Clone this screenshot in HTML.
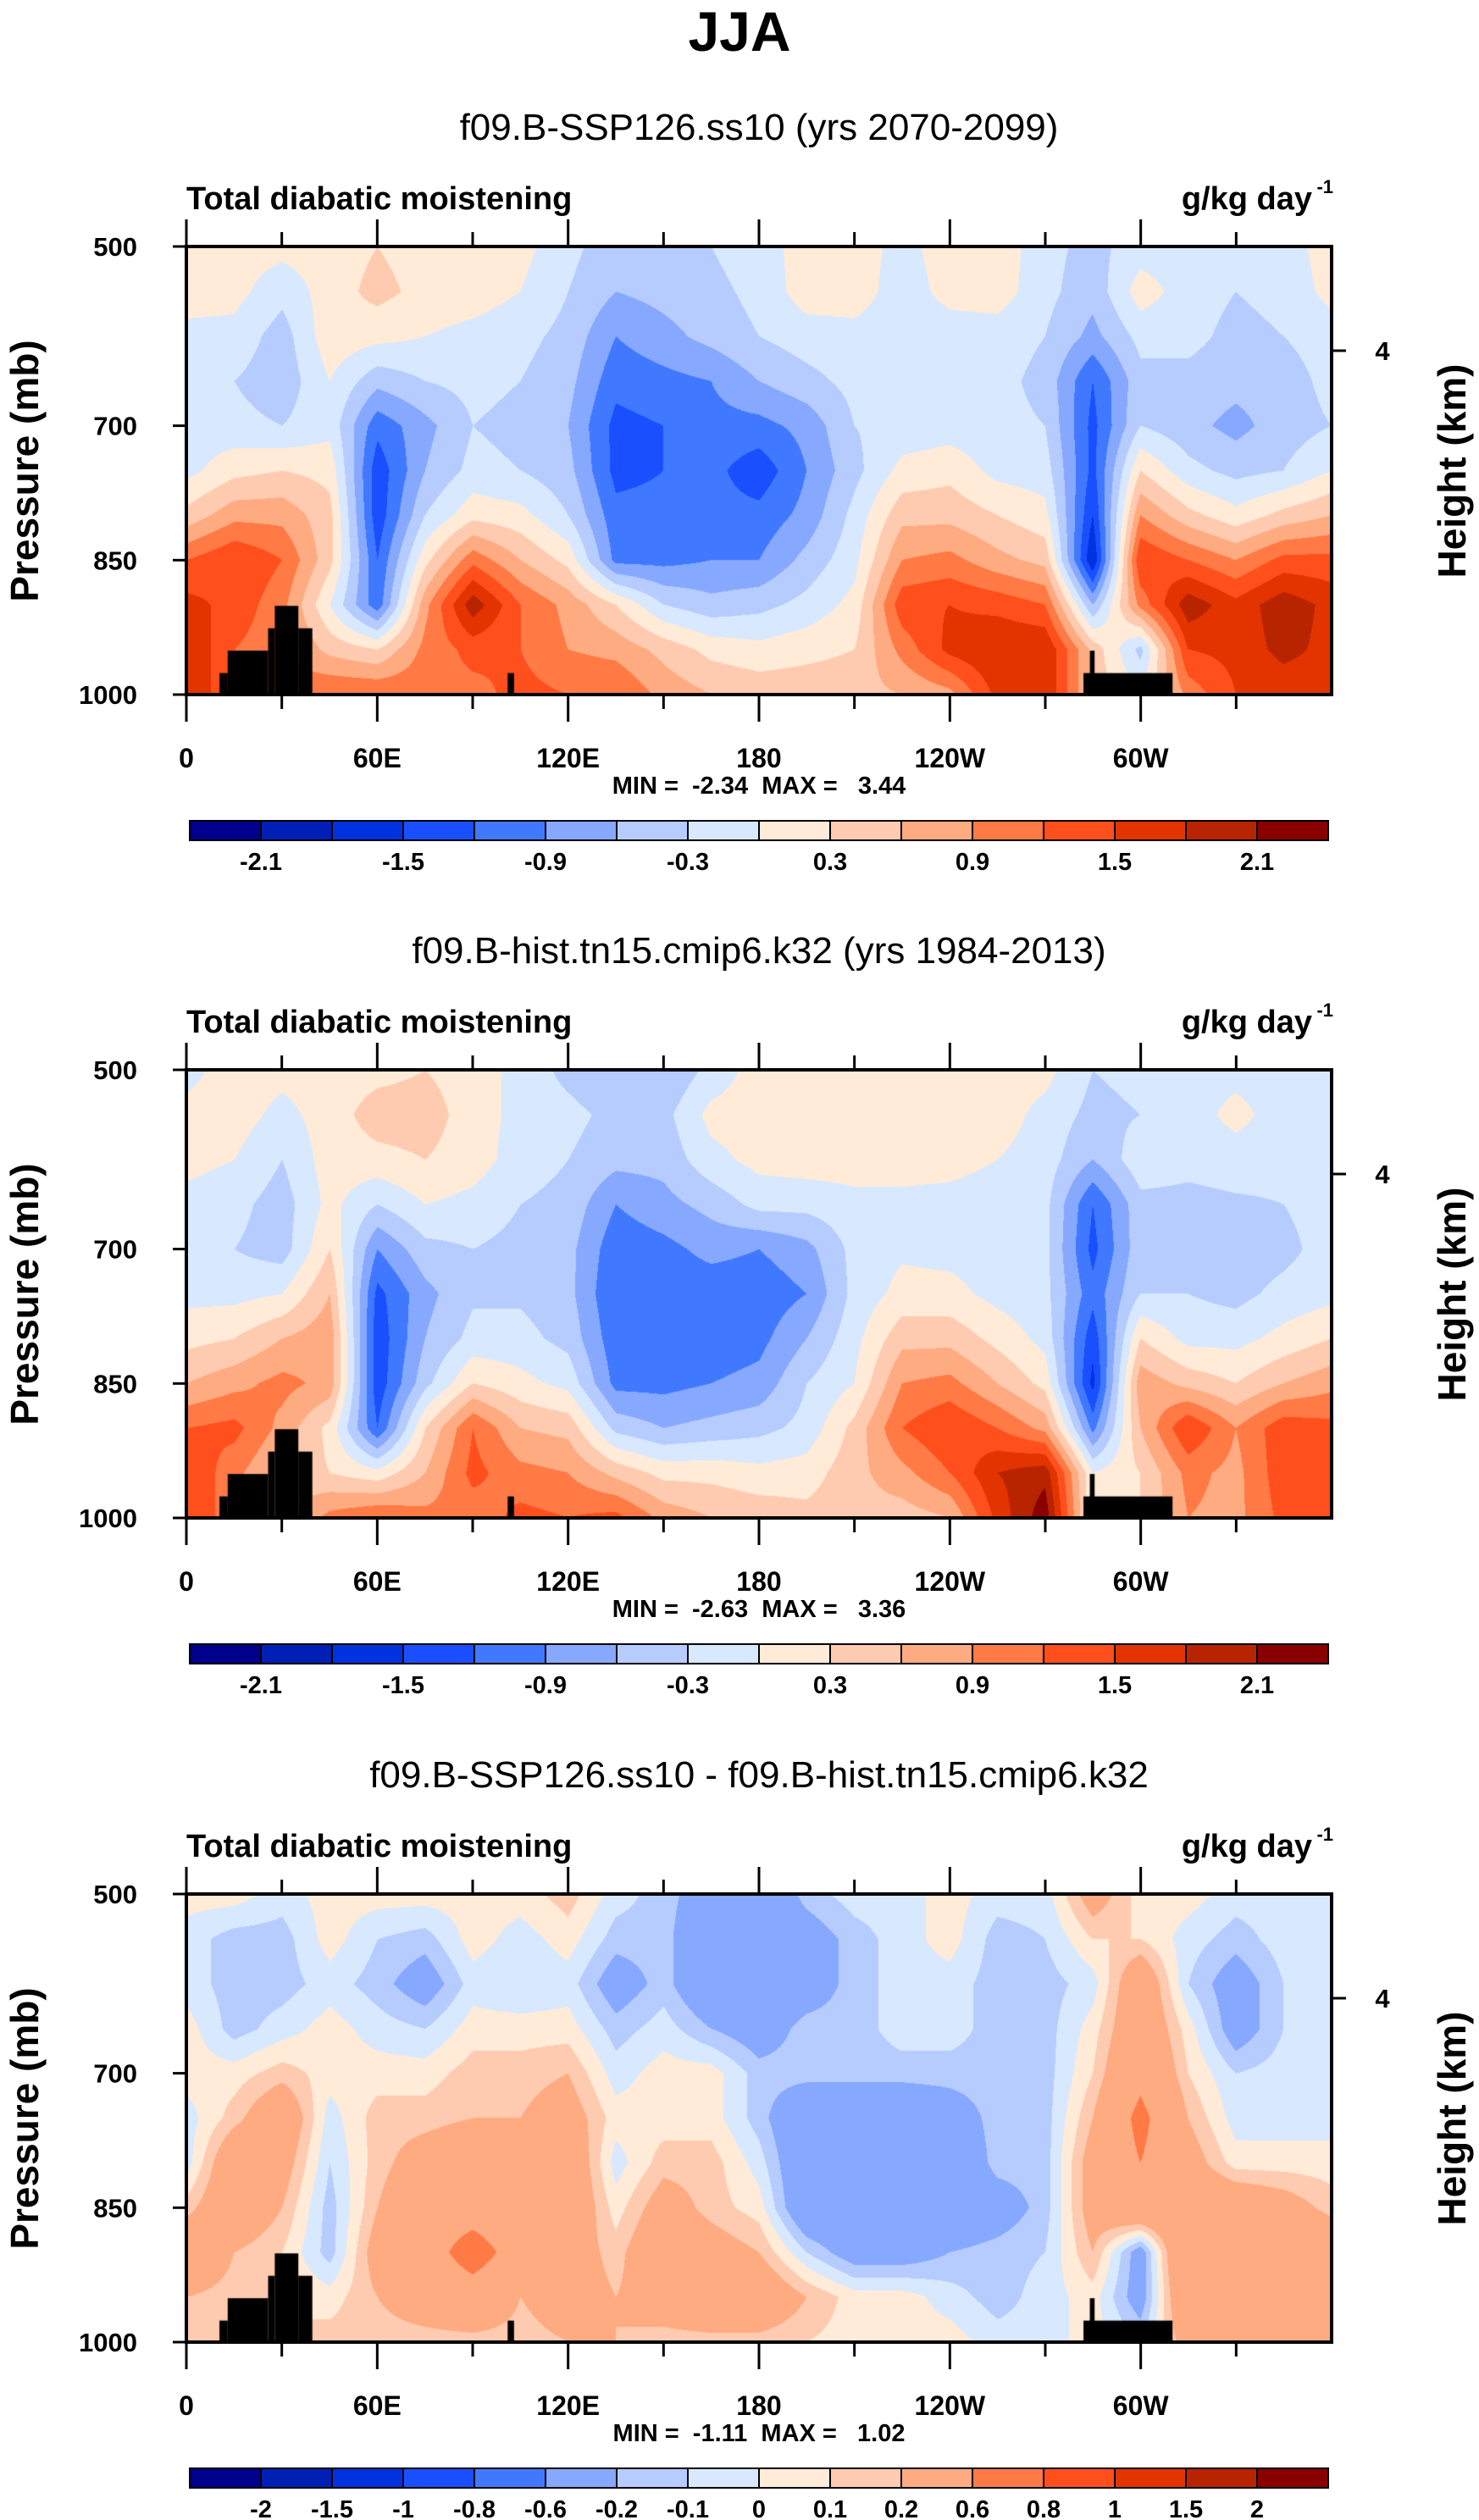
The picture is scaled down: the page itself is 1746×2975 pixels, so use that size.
<!DOCTYPE html>
<html><head><meta charset="utf-8">
<style>
html,body{margin:0;padding:0;background:#fff;}
#root{position:relative;width:1746px;height:2975px;overflow:hidden;background:#fff;}
canvas{position:absolute;}
svg{position:absolute;left:0;top:0;}
text{font-family:"Liberation Sans",sans-serif;fill:#000;white-space:pre;}
</style></head>
<body>
<div id="root">
<canvas id="c0" width="1352" height="529" style="left:220px;top:291px"></canvas>
<canvas id="c1" width="1352" height="529" style="left:220px;top:1263px"></canvas>
<canvas id="c2" width="1352" height="529" style="left:220px;top:2236px"></canvas>
<svg id="ov" width="1746" height="2975"></svg>
</div>
<script>
// ---- data ----
const lonTicks=[0,60,120,180,240,300];
const lonTickLabels=["0","60E","120E","180","120W","60W"];
const presTicks=[500,700,850,1000];
const presTickLabels=["500","700","850","1000"];
const gridLons=[0,15,30,45,60,75,90,105,120,135,150,165,180,195,210,225,240,255,270,285,300,315,330,345,360];
const gridPres=[500,550,600,650,700,750,800,850,900,950,1000];
// each row = one longitude column, values at gridPres
const field1=[
[0.15,0.15,-0.1,-0.2,-0.15,-0.1,0.4,1.2,1.6,1.8,1.8],
[0.15,0.1,-0.1,-0.3,-0.2,0.2,0.8,1.5,1.4,1.2,1.2],
[0.1,-0.2,-0.45,-0.5,-0.3,0.3,0.8,1.2,1.0,1.0,1.0],
[0.15,0.15,0.2,0.0,-0.1,0.2,0.4,0.4,0.0,0.5,1.2],
[0.3,0.4,0.1,-0.5,-1.1,-1.4,-1.4,-1.2,-1.1,0.3,1.2],
[0.15,0.2,0.0,-0.3,-0.7,-0.6,-0.3,0.2,0.8,1.0,1.1],
[0.15,0.15,-0.1,-0.2,-0.3,-0.2,0.2,1.1,2.0,1.3,1.1],
[0.1,0.0,-0.2,-0.3,-0.4,-0.3,0.1,0.6,1.2,1.2,1.3],
[-0.2,-0.3,-0.4,-0.5,-0.6,-0.5,-0.3,0.2,0.8,0.9,1.2],
[-0.5,-0.6,-0.9,-1.1,-1.3,-1.3,-1.1,-1.0,0.3,0.8,1.2],
[-0.4,-0.5,-0.7,-1.0,-1.2,-1.2,-1.1,-1.0,-0.3,0.5,0.8],
[-0.3,-0.4,-0.5,-0.9,-1.0,-1.1,-1.1,-0.9,-0.5,0.2,0.6],
[-0.1,-0.2,-0.3,-0.6,-1.0,-1.4,-1.1,-0.9,-0.4,0.1,0.5],
[0.1,0.15,-0.15,-0.4,-0.8,-0.9,-0.8,-0.5,-0.2,0.2,0.5],
[0.15,0.15,-0.1,-0.2,-0.3,-0.4,-0.2,-0.1,0.1,0.3,0.5],
[-0.1,-0.15,-0.2,-0.2,-0.2,0.1,0.5,0.9,1.4,1.0,0.6],
[0.15,0.1,-0.15,-0.2,-0.15,0.2,0.5,1.0,1.5,1.6,0.8],
[0.2,0.15,-0.15,-0.2,-0.2,-0.1,0.3,0.7,1.4,1.8,1.6],
[-0.2,-0.2,-0.3,-0.4,-0.3,-0.15,0.1,0.5,1.2,1.8,1.8],
[-0.4,-0.5,-0.7,-1.2,-1.3,-1.3,-1.5,-1.8,-0.6,0.5,0.5],
[-0.15,0.15,-0.2,-0.4,-0.3,0.3,0.9,1.5,1.0,-0.4,0.0],
[-0.15,-0.15,-0.2,-0.4,-0.5,-0.2,0.4,1.2,2.0,1.5,1.0],
[-0.15,-0.3,-0.4,-0.5,-0.7,-0.4,0.1,0.9,1.6,1.6,1.5],
[-0.15,-0.2,-0.3,-0.45,-0.45,-0.3,0.4,1.3,2.0,1.9,1.6],
[0.15,0.1,-0.15,-0.2,-0.3,0.0,0.6,1.3,1.7,1.7,1.6]];
const field2=[
[-0.1,0.1,0.1,-0.1,-0.15,-0.1,0.2,0.6,1.2,1.5,1.5],
[0.15,0.15,0.0,-0.2,-0.3,-0.1,0.3,0.8,1.3,1.0,1.0],
[0.1,-0.1,-0.3,-0.45,-0.45,0.0,0.6,1.0,0.8,0.5,0.5],
[0.15,0.15,0.15,0.1,0.3,0.6,0.8,0.8,0.2,0.3,1.0],
[0.2,0.45,0.2,-0.3,-0.9,-1.3,-1.4,-1.4,-1.2,0.1,1.2],
[0.3,0.45,0.3,0.0,-0.4,-0.7,-0.6,-0.4,0.3,0.6,1.0],
[0.15,0.15,0.15,-0.1,-0.3,-0.35,-0.2,0.3,1.2,1.3,1.0],
[-0.1,-0.1,-0.15,-0.3,-0.4,-0.35,-0.2,0.1,0.6,1.0,1.3],
[-0.4,-0.2,-0.3,-0.4,-0.5,-0.5,-0.4,-0.1,0.5,0.9,1.2],
[-0.6,-0.4,-0.5,-0.9,-1.1,-1.2,-1.1,-1.0,-0.4,0.5,1.3],
[-0.6,-0.4,-0.5,-0.7,-1.0,-1.1,-1.1,-1.0,-0.6,0.2,0.8],
[-0.2,0.1,-0.1,-0.5,-0.8,-1.1,-1.1,-0.9,-0.5,0.2,0.6],
[0.15,0.15,0.1,-0.2,-0.9,-1.1,-1.0,-0.8,-0.4,0.1,0.5],
[0.2,0.2,0.15,-0.2,-0.7,-0.9,-0.6,-0.3,-0.2,0.15,0.4],
[0.2,0.2,0.15,-0.1,-0.2,-0.2,-0.1,0.0,0.4,0.5,0.5],
[0.2,0.2,0.15,-0.1,-0.05,0.1,0.5,0.9,1.2,0.8,0.45],
[0.2,0.2,0.1,-0.1,-0.1,0.1,0.5,1.0,1.5,1.2,0.6],
[0.15,0.15,0.0,-0.15,-0.15,-0.1,0.2,0.6,1.2,1.8,1.6],
[0.1,-0.1,-0.15,-0.2,-0.2,-0.2,-0.1,0.2,0.8,2.0,2.3],
[-0.3,-0.4,-0.6,-1.2,-1.3,-1.1,-1.4,-1.6,-1.0,0.0,0.0],
[-0.2,-0.3,-0.1,-0.4,-0.4,-0.3,0.3,0.8,0.6,0.3,0.3],
[-0.15,-0.15,-0.2,-0.4,-0.45,-0.3,-0.1,0.5,1.5,1.0,0.9],
[-0.1,0.1,-0.15,-0.35,-0.5,-0.4,-0.1,0.3,0.9,0.8,0.8],
[-0.15,-0.15,-0.2,-0.3,-0.4,-0.2,0.1,0.6,1.4,1.4,1.3],
[-0.15,-0.15,-0.15,-0.15,-0.15,-0.1,0.3,0.8,1.3,1.5,1.4]];
const field3=[
[0.05,-0.05,-0.05,0.05,0.05,-0.05,-0.05,0.15,0.4,0.2,0.2],
[0.05,-0.15,-0.15,-0.15,0.05,0.15,0.4,0.4,0.2,0.15,0.1],
[-0.05,-0.15,-0.15,-0.05,0.15,0.4,0.3,0.2,0.1,0.1,0.1],
[0.05,0.05,-0.05,0.05,0.05,-0.05,-0.1,-0.15,-0.15,0.05,0.15],
[0.05,-0.1,-0.15,-0.05,0.05,0.15,0.15,0.2,0.3,0.2,0.15],
[0.05,-0.15,-0.3,-0.1,0.05,0.15,0.3,0.4,0.4,0.3,0.15],
[0.05,0.05,-0.05,0.05,0.15,0.2,0.4,0.4,0.8,0.4,0.15],
[0.05,-0.05,-0.1,0.05,0.15,0.2,0.4,0.3,0.4,0.2,0.15],
[0.15,0.05,-0.05,0.05,0.2,0.3,0.4,0.4,0.3,0.3,0.2],
[-0.05,-0.15,-0.3,-0.15,-0.05,0.05,-0.05,0.05,0.15,0.2,0.2],
[-0.15,-0.15,-0.15,-0.05,0.05,0.05,0.15,0.3,0.4,0.3,0.15],
[-0.3,-0.4,-0.4,-0.2,0.05,0.05,0.15,0.15,0.3,0.4,0.15],
[-0.4,-0.4,-0.4,-0.3,-0.15,-0.15,-0.05,0.05,0.2,0.4,0.15],
[-0.15,-0.3,-0.3,-0.15,-0.15,-0.4,-0.4,-0.4,-0.1,0.2,0.1],
[-0.05,-0.15,-0.15,-0.15,-0.15,-0.4,-0.4,-0.4,-0.3,0.05,0.05],
[-0.05,-0.05,-0.05,-0.05,-0.15,-0.4,-0.4,-0.4,-0.3,0.05,0.05],
[0.05,0.05,-0.05,-0.05,-0.15,-0.3,-0.4,-0.4,-0.2,-0.05,0.05],
[-0.05,-0.15,-0.15,-0.15,-0.15,-0.15,-0.15,-0.3,-0.15,-0.15,-0.05],
[-0.05,-0.1,-0.15,-0.15,-0.15,-0.15,-0.15,-0.15,-0.1,-0.05,-0.05],
[0.3,0.1,-0.05,0.05,0.1,0.2,0.3,0.3,0.2,0.05,0.05],
[0.05,0.1,0.4,0.4,0.5,0.7,0.6,0.5,-0.3,-0.3,-0.1],
[0.05,-0.05,-0.1,0.05,0.1,0.2,0.3,0.4,0.6,0.5,0.3],
[-0.05,-0.15,-0.3,-0.3,-0.1,-0.05,0.05,0.4,0.5,0.3,0.3],
[-0.05,-0.05,-0.1,-0.1,-0.05,-0.05,0.05,0.3,0.4,0.4,0.4],
[-0.05,-0.05,-0.05,-0.05,-0.05,-0.05,0.05,0.15,0.4,0.4,0.4]];
const levelsAbs=[-2.1,-1.8,-1.5,-1.2,-0.9,-0.6,-0.3,0,0.3,0.6,0.9,1.2,1.5,1.8,2.1];
const labelsAbs=["-2.1","","-1.5","","-0.9","","-0.3","","0.3","","0.9","","1.5","","2.1"];
const levelsDiff=[-2,-1.5,-1,-0.8,-0.6,-0.2,-0.1,0,0.1,0.2,0.6,0.8,1,1.5,2];
const labelsDiff=["-2","-1.5","-1","-0.8","-0.6","-0.2","-0.1","0","0.1","0.2","0.6","0.8","1","1.5","2"];
const palette=["#00008c","#001fb5","#0032e0","#1a4fff","#4079ff","#86a9ff","#b6ccff","#d8e9ff","#ffebd8","#ffcbb0","#ffab82","#ff7a45","#ff4f1c","#e33400","#b92400","#8a0000"];
// terrain blocks: [lonStart, lonEnd, topPressure]
const terrainLon0=[10.4,13,25.7,27.8,35.2,101,282,284];
const terrainLon1=[13,25.7,27.8,35.2,39.6,103,310,285.5];
const terrainTop=[976,951,926,901,926,976,976,951];
const titles=["f09.B-SSP126.ss10 (yrs 2070-2099)","f09.B-hist.tn15.cmip6.k32 (yrs 1984-2013)","f09.B-SSP126.ss10 - f09.B-hist.tn15.cmip6.k32"];
const minMax=["MIN =  -2.34  MAX =   3.44","MIN =  -2.63  MAX =   3.36","MIN =  -1.11  MAX =   1.02"];

// ---- geometry ----
const PX0=220,PX1=1572,PH=529;
const offsets=[0,972,1945];
const PY0=291;
function xOfLon(l){return PX0+(l/360)*(PX1-PX0);}
function yOfP(p,off){return PY0+off+((p-500)/500)*PH;}
function hexRgb(h){return [parseInt(h.slice(1,3),16),parseInt(h.slice(3,5),16),parseInt(h.slice(5,7),16)];}
const rgbPal=palette.map(hexRgb);

function drawField(cv,field,levels){
  const ctx=cv.getContext('2d');const W=cv.width,H=cv.height;
  const img=ctx.createImageData(W,H);const d=img.data;
  const nL=gridLons.length,nP=gridPres.length;
  for(let y=0;y<H;y++){
    const p=500+y/(H-1)*500;
    let fj=(p-gridPres[0])/(gridPres[1]-gridPres[0]);let j=Math.min(Math.floor(fj),nP-2);let ty=fj-j;
    for(let x=0;x<W;x++){
      const lon=x/(W-1)*360;
      let fi=(lon-gridLons[0])/(gridLons[1]-gridLons[0]);let i=Math.min(Math.floor(fi),nL-2);let tx=fi-i;
      const v=(field[i][j]*(1-tx)+field[i+1][j]*tx)*(1-ty)+(field[i][j+1]*(1-tx)+field[i+1][j+1]*tx)*ty;
      let k=0;while(k<levels.length&&v>=levels[k])k++;
      const c=rgbPal[k];const o=(y*W+x)*4;
      d[o]=c[0];d[o+1]=c[1];d[o+2]=c[2];d[o+3]=255;
    }
  }
  ctx.putImageData(img,0,0);
  ctx.fillStyle="#000";
  for(let t=0;t<terrainTop.length;t++){
    const x0=(terrainLon0[t]/360)*W,x1=(terrainLon1[t]/360)*W;
    const y0=((terrainTop[t]-500)/500)*H;
    ctx.fillRect(x0,y0,x1-x0,H-y0);
  }
}
drawField(document.getElementById('c0'),field1,levelsAbs);
drawField(document.getElementById('c1'),field2,levelsAbs);
drawField(document.getElementById('c2'),field3,levelsDiff);

// ---- overlay ----
const NS="http://www.w3.org/2000/svg";
const svg=document.getElementById('ov');
function mk(tag,attrs,parent){const e=document.createElementNS(NS,tag);for(const k in attrs)e.setAttribute(k,attrs[k]);(parent||svg).appendChild(e);return e;}
function txt(s,x,y,size,weight,anchor,parent){const e=mk('text',{x:x,y:y,'font-size':size,'font-weight':weight,'text-anchor':anchor},parent);e.textContent=s;return e;}

const main=txt("JJA",873,60,66,"bold","middle");



for(let k=0;k<3;k++){
  const off=offsets[k];
  const g=mk('g',{});
  
  
  const st=txt(titles[k],896,165+off,44,"normal","middle",g);
  
  
  const lt=txt("Total diabatic moistening",220,247+off,38,"bold","start",g);
  
  
  const ut=mk('text',{x:1549,y:247+off,'font-size':38,'font-weight':'bold','text-anchor':'end'},g);
  ut.textContent="g/kg day";
  
  
  const sup=txt("-1",1574,228+off,22,"bold","end",g);
  
  
  const y0=yOfP(500,off),y1=yOfP(1000,off);
  const fr=mk('rect',{x:PX0,y:y0,width:PX1-PX0,height:y1-y0,fill:'none',stroke:'#000','stroke-width':4},g);
  
  
  for(let l=0;l<=330;l+=30){
    const x=xOfLon(l);const major=(l%60===0);const len=major?32:17;
    const t1=mk('line',{x1:x,y1:y0,x2:x,y2:y0-len,stroke:'#000','stroke-width':3},g);
    
    
    const t2=mk('line',{x1:x,y1:y1,x2:x,y2:y1+len,stroke:'#000','stroke-width':3},g);
    
    
  }
  lonTicks.forEach((l,i)=>{
    const e=txt(lonTickLabels[i],xOfLon(l),y1+86,32,"bold","middle",g);
    
    
  });
  presTicks.forEach((p,i)=>{
    const y=yOfP(p,off);
    const tl=mk('line',{x1:PX0,y1:y,x2:PX0-16,y2:y,stroke:'#000','stroke-width':3},g);
    
    
    const e=txt(presTickLabels[i],162,y+11,31,"bold","end",g);
    
    
  });
  const hy=414+off;
  const rt=mk('line',{x1:PX1,y1:hy,x2:PX1+17,y2:hy,stroke:'#000','stroke-width':3},g);
  
  
  const r4=txt("4",1632,hy+11,31,"bold","middle",g);
  
  
  const ya=txt("Pressure (mb)",0,0,46,"bold","middle",g);
  ya.setAttribute('transform','translate(45,'+(556+off)+') rotate(-90)');
  
  
  const yr=txt("Height (km)",0,0,46,"bold","middle",g);
  yr.setAttribute('transform','translate(1730,'+(556+off)+') rotate(-90)');
  
  
  const mm=txt(minMax[k],896,937+off,29,"bold","middle",g);
  
  
  // colorbar
  const cb0=224,cb1=1568,cbY=969+off,cbH=23;const bw=(cb1-cb0)/16;
  const levs=k===2?labelsDiff:labelsAbs;
  for(let c=0;c<16;c++){
    const r=mk('rect',{x:cb0+c*bw,y:cbY,width:bw,height:cbH,fill:palette[c],stroke:'#000','stroke-width':2},g);
    
    
  }
  levs.forEach((s,i)=>{
    if(!s)return;
    const e=txt(s,cb0+(i+1)*bw,cbY+58,29,"bold","middle",g);
    
    
  });
}
</script>
</body></html>
